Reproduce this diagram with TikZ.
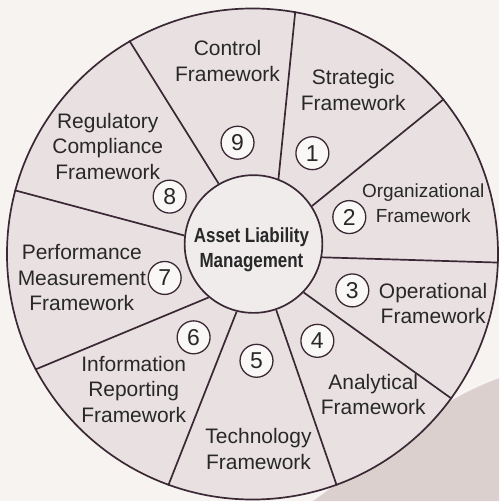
\documentclass[tikz,border=0pt]{standalone}
\usepackage{fontspec}
\setmainfont{Liberation Sans}
\newfontfamily\narrowfont[FakeStretch=0.83]{Liberation Sans}
\definecolor{bgcol}{RGB}{246,243,241}
\definecolor{swooshcol}{RGB}{220,208,207}
\definecolor{wedgecol}{RGB}{233,225,225}
\definecolor{hubcol}{RGB}{240,236,236}
\definecolor{numcol}{RGB}{250,248,247}
\definecolor{linecol}{RGB}{58,40,52}
\definecolor{textcol}{RGB}{40,40,40}
\begin{document}
\begin{tikzpicture}[x=1pt, y=-1pt,
    spoke/.style={draw=linecol, line width=1.7pt},
    ring/.style={circle, draw=linecol, line width=1.7pt, inner sep=0pt},
    numbox/.style={circle, draw=linecol, line width=1.3pt, fill=numcol, minimum size=33pt,
      inner sep=0pt, text=textcol, font=\fontsize{23}{23}\selectfont},
    fwtext/.style={align=center, inner sep=0pt, text=textcol, font=\fontsize{21}{25.5}\selectfont}]
  \def\Xo{253}
  \def\Yo{254.5}
  \def\Xh{254}
  \def\Yh{244.5}

  % background
  \fill[bgcol] (0,0) rectangle (500,502);
  \fill[swooshcol] (312,502) .. controls (365,465) and (425,405) .. (500,378) -- (500,502) -- cycle;
  \draw[white, opacity=0.6, line width=2pt] (312,502) .. controls (365,465) and (425,405) .. (500,378);
  \useasboundingbox (0,0) rectangle (500,502);

  % wheel
  \node[ring, fill=wedgecol, minimum size=492pt] (rim) at (\Xo,\Yo) {};
  \node[ring, fill=hubcol, minimum size=138pt] (hub) at (\Xh,\Yh) {};

  % spokes
  \draw[spoke] (hub.69.1) -- (rim.80.6);
  \draw[spoke] (hub.33.8) -- (rim.39.7);
  \draw[spoke] (hub.349.7) -- (rim.358.5);
  \draw[spoke] (hub.316.4) -- (rim.324.7);
  \draw[spoke] (hub.289.3) -- (rim.290.9);
  \draw[spoke] (hub.256.9) -- (rim.250.9);
  \draw[spoke] (hub.230.5) -- (rim.208.7);
  \draw[spoke] (hub.173.8) -- (rim.165.5);
  \draw[spoke] (hub.120.8) -- (rim.120.4);

  % numbers
  \node[numbox] (n1) at (313,153.5) {1};
  \node[numbox] (n2) at (350,217.5) {2};
  \node[numbox] (n3) at (353,291) {3};
  \node[numbox] (n4) at (318,341.5) {4};
  \node[numbox] (n5) at (257,361.5) {5};
  \node[numbox] (n6) at (194,338) {6};
  \node[numbox] (n7) at (165,278.5) {7};
  \node[numbox] (n8) at (170,197) {8};
  \node[numbox] (n9) at (238,143) {9};

  % labels
  \node[font=\narrowfont\bfseries\fontsize{20.5}{25}\selectfont, align=center, text=textcol,
    inner sep=0pt] (alm) at (252,250.5) {Asset Liability\\Management};
  \node[fwtext] (strategic) at (354,90) {Strategic\\Framework};
  \node[fwtext, font=\fontsize{19}{25}\selectfont] (organizational) at (424,204) {Organizational\\Framework};
  \node[fwtext] (operational) at (434,304) {Operational\\Framework};
  \node[fwtext] (analytical) at (374,395.5) {Analytical\\Framework};
  \node[fwtext] (technology) at (259,450) {Technology\\Framework};
  \node[fwtext] (information) at (134,390) {Information\\Reporting\\Framework};
  \node[fwtext] (performance) at (82,278.5) {Performance\\Measurement\\Framework};
  \node[fwtext] (regulatory) at (108,146.5) {Regulatory\\Compliance\\Framework};
  \node[fwtext] (control) at (228,61) {Control\\Framework};

\end{tikzpicture}
\end{document}
